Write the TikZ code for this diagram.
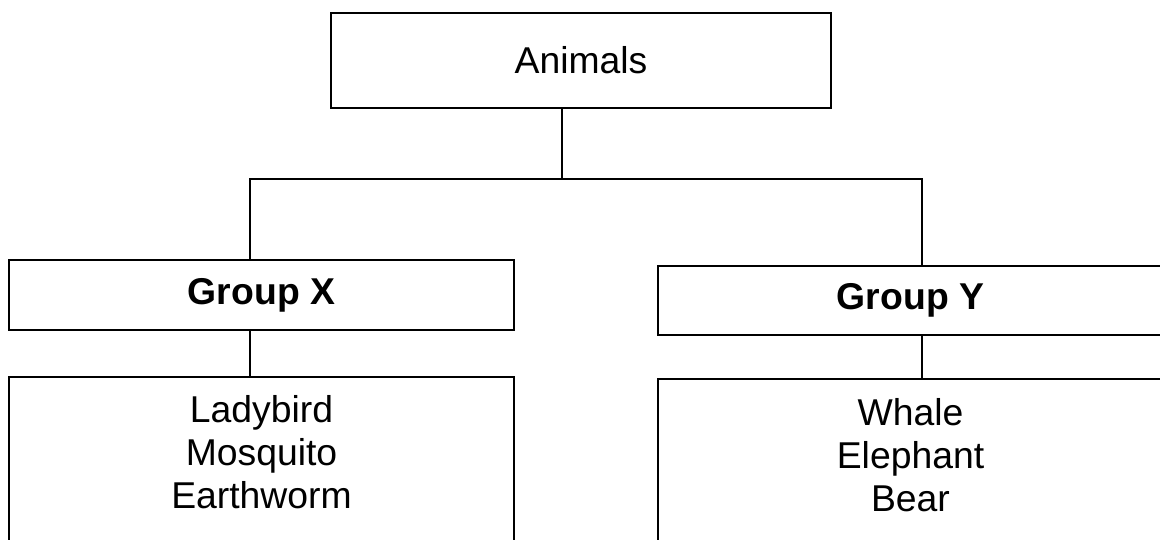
\documentclass[tikz,border=0pt]{standalone}
\usepackage{fontspec}
\setmainfont{Liberation Sans}
\usetikzlibrary{positioning}

\tikzset{
	box/.style={draw, line width=1.4pt, inner sep=0pt, font=\fontsize{28}{32.25}\selectfont},
	group/.style={box, font=\fontsize{28}{32.25}\selectfont\bfseries},
	frame/.style={draw, line width=1.4pt, anchor=north, minimum height=150pt},
	list/.style={align=center, inner sep=0pt, font=\fontsize{28}{32.25}\selectfont},
	link/.style={line width=1.4pt}
}

\begin{document}
\begin{tikzpicture}[x=0.75pt, y=-0.75pt]
	% NOTE: y runs downwards here, one unit is one pixel of the page.
	\clip (0,0) rectangle (1160,539);
	\node[box, minimum width=375pt, minimum height=71.25pt] (animals) at (581,60.5) {Animals};
	\node[group, minimum width=378.75pt, minimum height=52.5pt] (gx) at (261.5,295) {Group X};
	\node[group, minimum width=378.75pt, minimum height=51.75pt] (gy) at (910.5,300.5) {Group Y};
	\node[frame, minimum width=378.75pt] (lx) at (261.5,376) {};
	\node[frame, minimum width=378.75pt] (ly) at (910.5,378) {};
	\node[list, below=14.25pt of lx.north] (lxt) {Ladybird\\Mosquito\\Earthworm};
	\node[list, below=15pt of ly.north] (lyt) {Whale\\Elephant\\Bear};
	% joints of the connectors
	\coordinate (jc) at (562,179);
	\coordinate (jl) at (250,179);
	\coordinate (jr) at (922,179);
	\draw[link] (animals.south -| jc) -- (jc);
	\draw[link] (jl |- gx.north) -- (jl) -- (jr) -- (jr |- gy.north);
	\draw[link] (jl |- gx.south) -- (jl |- lx.north);
	\draw[link] (jr |- gy.south) -- (jr |- ly.north);
\end{tikzpicture}
\end{document}
